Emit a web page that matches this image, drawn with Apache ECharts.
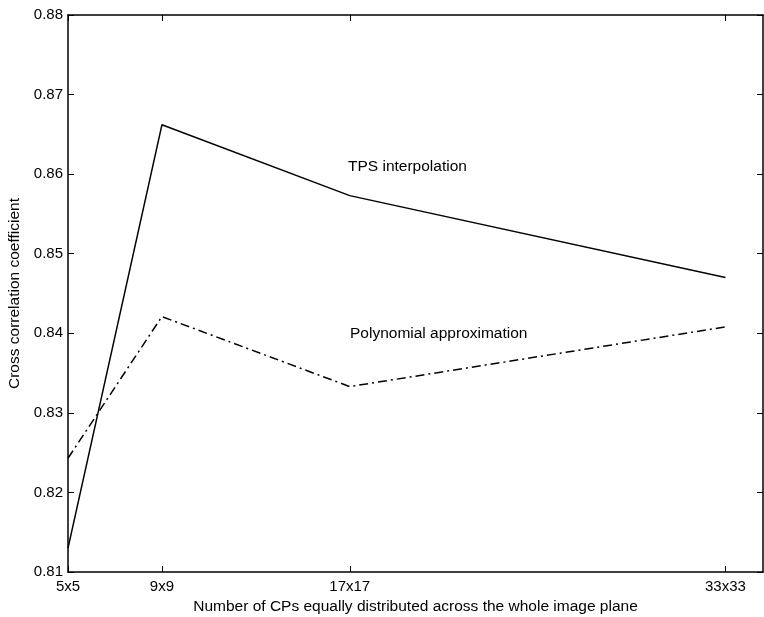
<!DOCTYPE html>
<html><head><meta charset="utf-8">
<script src="https://cdn.jsdelivr.net/npm/echarts@6/dist/echarts.min.js"></script>
<style>html,body{margin:0;padding:0;background:#fff}#c{width:764px;height:617px}</style>
</head><body><div id="c"></div>
<script>
const xValues = [5, 9, 17, 33];
const xTickLabels = ['5x5', '9x9', '17x17', '33x33'];
const tpsValues = [0.8130, 0.8662, 0.8573, 0.8470];
const polyValues = [0.8243, 0.8421, 0.8333, 0.8408];
const yTicks = [0.81, 0.82, 0.83, 0.84, 0.85, 0.86, 0.87, 0.88];

const font = 'Liberation Sans, Arial, Helvetica, sans-serif';
const chart = echarts.init(document.getElementById('c'));
const xMin = 5, xMax = 34.6;
const tickStyle = {show: true, inside: true, length: 6, lineStyle: {color: '#000', width: 1}};
chart.setOption({
  animation: false,
  grid: {left: 68, right: 1, top: 15, bottom: 45, containLabel: false, outerBoundsMode: 'none'},
  xAxis: [{
    type: 'value', min: xMin, max: xMax, position: 'bottom',
    axisLine: {show: true, lineStyle: {color: '#000', width: 1.5}},
    axisTick: Object.assign({}, tickStyle, {customValues: xValues}),
    axisLabel: {customValues: xValues, color: '#000', fontSize: 15, fontFamily: font, margin: 7,
      formatter: v => xTickLabels[xValues.indexOf(v)] || ''},
    splitLine: {show: false},
    name: 'Number of CPs equally distributed across the whole image plane',
    nameLocation: 'middle', nameGap: 27,
    nameTextStyle: {color: '#000', fontSize: 15.5, fontFamily: font}
  }, {
    type: 'value', min: xMin, max: xMax, position: 'top',
    axisLine: {show: true, lineStyle: {color: '#000', width: 1.5}},
    axisTick: Object.assign({}, tickStyle, {customValues: xValues}),
    axisLabel: {show: false}, splitLine: {show: false}
  }],
  yAxis: [{
    type: 'value', min: 0.81, max: 0.88, interval: 0.01, position: 'left',
    axisLine: {show: true, lineStyle: {color: '#000', width: 1.5}},
    axisTick: tickStyle,
    axisLabel: {color: '#000', fontSize: 15, fontFamily: font, margin: 5,
      formatter: v => yTicks.find(t => Math.abs(t - v) < 1e-6).toFixed(2)},
    splitLine: {show: false},
    name: 'Cross correlation coefficient', nameLocation: 'middle', nameGap: 42, nameRotate: 90,
    nameTextStyle: {color: '#000', fontSize: 15.5, fontFamily: font}
  }, {
    type: 'value', min: 0.81, max: 0.88, interval: 0.01, position: 'right',
    axisLine: {show: true, lineStyle: {color: '#000', width: 1.5}},
    axisTick: tickStyle, axisLabel: {show: false}, splitLine: {show: false}
  }],
  series: [{
    name: 'TPS interpolation', type: 'line', xAxisIndex: 0, yAxisIndex: 0,
    data: xValues.map((x, i) => [x, tpsValues[i]]),
    showSymbol: false, symbol: 'none',
    lineStyle: {color: '#000', width: 1.5, type: 'solid'}
  }, {
    name: 'Polynomial approximation', type: 'line', xAxisIndex: 0, yAxisIndex: 0,
    data: xValues.map((x, i) => [x, polyValues[i]]),
    showSymbol: false, symbol: 'none',
    lineStyle: {color: '#000', width: 1.5, type: [9, 4, 2, 4]}
  }],
  graphic: [
    {type: 'text', left: 348, top: 159, style: {text: 'TPS interpolation', fill: '#000', font: '15.5px ' + font}},
    {type: 'text', left: 350, top: 326, style: {text: 'Polynomial approximation', fill: '#000', font: '15.5px ' + font}}
  ]
});
</script>
</body></html>
